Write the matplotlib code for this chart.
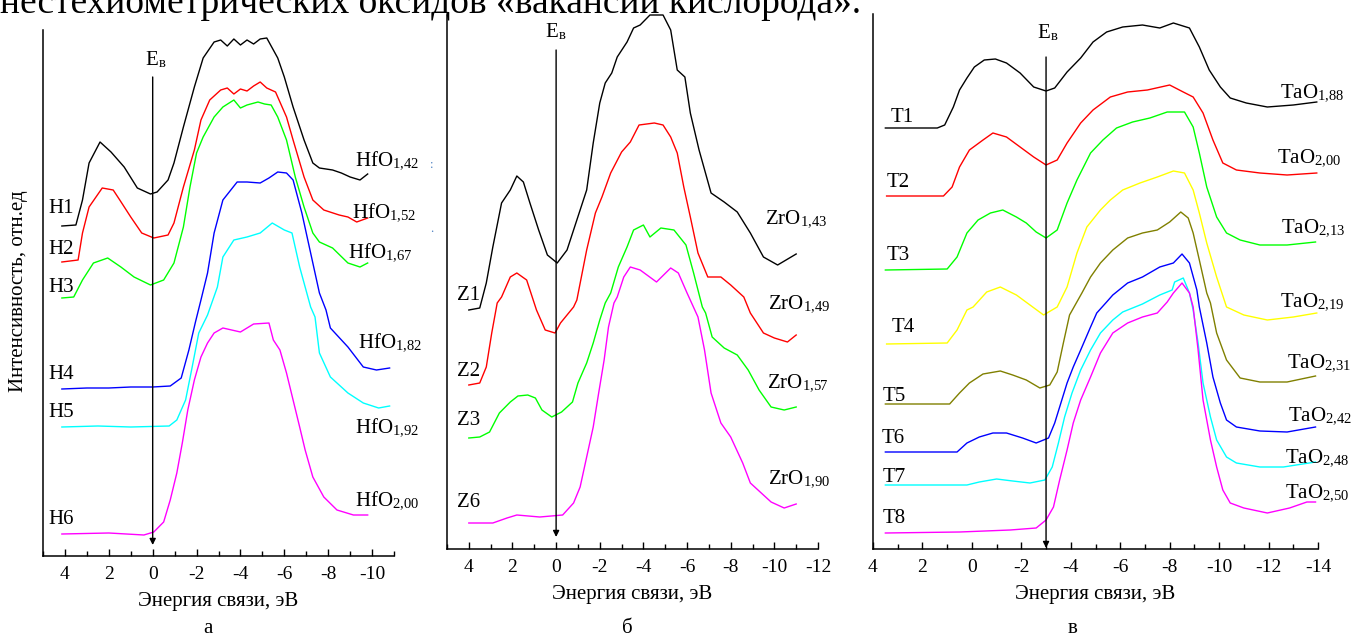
import numpy as np
import matplotlib
matplotlib.use("Agg")
import matplotlib.pyplot as plt

plt.rcParams['font.family'] = ['Liberation Serif', 'DejaVu Serif']
plt.rcParams['mathtext.fontset'] = 'stix'
plt.rcParams['axes.unicode_minus'] = False

# ---------------- data: panel a (HfOx) ----------------
h1_e = [4.14, 3.5, 3.2, 2.9, 2.4, 1.9, 1.3, 0.7, 0.1, -0.2, -0.7, -0.97, -1.4, -1.9, -2.3, -2.8,
        -3.1, -3.4, -3.7, -4.0, -4.3, -4.6, -4.9, -5.2, -5.7, -6.0, -6.4, -6.9, -7.3, -7.6, -8.2,
        -8.6, -9.0, -9.45, -9.8]
h1_i = [330, 331, 356, 393, 414, 404, 389, 368, 362, 364, 376, 393, 429, 469, 498, 514,
        516, 510, 517, 511, 516, 512, 517, 518, 498, 479, 449, 416, 393, 388, 386,
        383, 379, 376, 382]
h2_e = [4.14, 3.4, 3.2, 2.9, 2.3, 1.8, 1.5, 1.0, 0.5, -0.05, -0.7, -0.97, -1.4, -1.9, -2.2, -2.6,
        -3.1, -3.4, -3.7, -4.0, -4.3, -4.6, -4.9, -5.2, -5.6, -6.1, -6.4, -6.9, -7.3, -7.8, -8.5,
        -8.9, -9.3, -9.8]
h2_i = [294, 296, 323, 349, 368, 366, 356, 339, 323, 318, 321, 333, 369, 406, 436, 456,
        466, 468, 462, 467, 465, 470, 474, 468, 464, 439, 416, 379, 356, 346, 341,
        339, 334, 338]
h3_e = [4.14, 3.6, 3.2, 2.7, 2.05, 1.45, 0.85, 0.1, -0.5, -0.97, -1.4, -1.7, -2.0, -2.3, -2.8,
        -3.2, -3.7, -4.0, -4.3, -4.8, -5.1, -5.4, -5.7, -6.1, -6.5, -6.9, -7.3, -7.6, -8.2, -8.9,
        -9.45, -9.8]
h3_i = [258, 259, 276, 293, 298, 289, 279, 271, 276, 293, 329, 369, 403, 419, 439,
        449, 456, 448, 451, 454, 452, 451, 439, 416, 379, 349, 323, 314, 308, 293,
        289, 293]
h4_e = [4.14, 3.0, 2.0, 1.0, 0.0, -0.8, -1.3, -1.65, -1.95, -2.2, -2.5, -2.8, -3.2, -3.85, -4.3,
        -4.9, -5.3, -5.7, -6.1, -6.4, -6.8, -7.2, -7.6, -7.9, -8.1, -8.9, -9.6, -10.2, -10.8]
h4_i = [167, 168, 168, 169, 169, 170, 178, 206, 234, 256, 283, 323, 356, 374, 374,
        373, 378, 384, 383, 376, 343, 303, 263, 246, 228, 209, 189, 186, 188]
h5_e = [4.14, 2.5, 1.0, -0.75, -1.1, -1.5, -1.8, -2.1, -2.5, -2.95, -3.2, -3.7, -4.3, -4.9, -5.45,
        -6.0, -6.35, -6.7, -7.2, -7.4, -7.6, -8.1, -8.9, -9.6, -10.3, -10.8]
h5_i = [129, 130, 129, 130, 136, 156, 189, 223, 241, 269, 299, 316, 319, 323, 333,
        326, 323, 289, 249, 239, 203, 179, 163, 153, 148, 150]
h6_e = [4.14, 2.0, 0.4, -0.05, -0.5, -0.8, -1.1, -1.35, -1.6, -1.9, -2.2, -2.5, -2.8, -3.2, -4.0,
        -4.6, -5.3, -5.5, -5.8, -6.1, -6.4, -6.7, -6.95, -7.3, -7.8, -8.4, -9.15, -9.8]
h6_i = [22, 23, 21, 24, 34, 56, 83, 113, 146, 176, 199, 213, 223, 228, 224,
        232, 233, 216, 206, 183, 156, 129, 106, 79, 59, 46, 41, 41]

# ---------------- data: panel b (ZrOx) ----------------
z1_e = [4.0, 3.5, 3.2, 2.9, 2.5, 2.1, 1.8, 1.5, 1.2, 0.8, 0.4, -0.05, -0.5, -0.95, -1.4, -1.7,
        -2.0, -2.25, -2.55, -2.8, -3.25, -3.55, -3.85, -4.3, -4.9, -5.25, -5.55, -5.9, -6.15,
        -6.55, -7.1, -7.7, -8.3, -8.9, -9.5, -10.15, -11.0]
z1_i = [239, 241, 266, 302, 346, 359, 373, 367, 346, 319, 294, 286, 299, 329, 359, 406,
        446, 466, 476, 492, 507, 521, 524, 534, 534, 519, 479, 472, 436,
        399, 356, 347, 337, 316, 292, 284, 295]
z2_e = [4.0, 3.5, 3.2, 2.95, 2.7, 2.5, 2.1, 1.8, 1.35, 0.9, 0.5, 0.05, -0.2, -0.8, -0.95, -1.4,
        -1.8, -2.1, -2.5, -3.0, -3.4, -3.8, -4.5, -4.9, -5.25, -5.55, -5.85, -6.15, -6.5, -6.95,
        -7.55, -8.0, -8.6, -8.9, -9.5, -10.0, -10.6, -11.0]
z2_i = [164, 166, 182, 216, 246, 252, 272, 276, 269, 239, 219, 216, 226, 242, 249, 299,
        336, 352, 376, 397, 407, 424, 426, 424, 412, 396, 362, 332, 296, 272,
        272, 264, 252, 236, 216, 211, 207, 214]
z3_e = [4.0, 3.5, 3.05, 2.6, 2.1, 1.75, 1.3, 0.95, 0.65, 0.2, -0.25, -0.75, -1.0, -1.4, -1.7,
        -2.0, -2.25, -2.5, -2.85, -3.25, -3.55, -4.0, -4.3, -4.8, -5.4, -5.95, -6.3, -6.7, -6.85,
        -7.15, -7.7, -8.3, -8.8, -9.3, -9.85, -10.45, -11.0]
z3_i = [111, 112, 117, 136, 147, 153, 154, 151, 139, 132, 137, 147, 166, 186, 206,
        229, 246, 256, 282, 302, 319, 324, 312, 321, 319, 304, 276, 242, 236,
        212, 201, 194, 179, 159, 142, 139, 142]
z6_e = [4.0, 2.9, 2.25, 1.8, 0.75, -0.3, -0.8, -1.1, -1.4, -1.7, -1.95, -2.2, -2.4, -2.65, -2.8,
        -3.1, -3.4, -3.85, -4.6, -5.25, -5.6, -6.0, -6.5, -6.8, -7.1, -7.55, -8.0, -8.55, -8.9,
        -9.4, -9.85, -10.45, -11.0]
z6_i = [26, 26, 31, 34, 32, 34, 46, 62, 92, 122, 156, 189, 222, 246, 252,
        272, 282, 279, 267, 281, 276, 256, 232, 199, 156, 126, 112, 86, 66,
        56, 47, 41, 45]

# ---------------- data: panel c (TaOx) ----------------
t1_e = [3.5, 1.4, 1.1, 0.75, 0.5, 0.2, -0.1, -0.5, -0.95, -1.4, -1.95, -2.5, -3.0, -3.35, -3.85,
        -4.4, -4.9, -5.45, -6.1, -6.9, -7.6, -8.15, -8.8, -9.2, -9.6, -10.05, -10.45, -11.1,
        -11.95, -13.0, -13.95]
t1_i = [421, 421, 424, 442, 459, 471, 482, 489, 490, 486, 476, 462, 458, 461, 477,
        491, 507, 517, 522, 524, 521, 526, 521, 502, 479, 462, 451, 446,
        442, 444, 447]
t2_e = [3.45, 1.15, 0.8, 0.5, 0.1, -0.45, -0.85, -1.4, -1.95, -2.5, -3.0, -3.45, -3.85, -4.4,
        -4.9, -5.6, -6.3, -7.1, -8.0, -8.55, -8.95, -9.35, -9.75, -10.15, -10.7, -11.65, -12.75,
        -13.95]
t2_i = [353, 353, 362, 382, 399, 409, 416, 412, 402, 392, 384, 389, 406, 426,
        439, 452, 457, 459, 464, 457, 452, 436, 409, 386, 379, 376, 374, 376]
t3_e = [3.5, 1.0, 0.6, 0.2, -0.25, -0.75, -1.25, -1.8, -2.2, -2.6, -3.0, -3.45, -3.85, -4.25,
        -4.8, -5.3, -5.85, -6.5, -7.2, -7.9, -8.6, -8.95, -9.2, -9.5, -9.9, -10.3, -10.85, -11.65,
        -12.75, -13.9]
t3_i = [279, 280, 292, 316, 329, 336, 339, 332, 326, 317, 311, 319, 346, 369,
        396, 409, 421, 427, 431, 437, 437, 422, 396, 362, 332, 316, 309, 304,
        304, 307]
t4_e = [3.45, 1.0, 0.6, 0.2, -0.05, -0.6, -1.15, -1.8, -2.35, -2.9, -3.45, -3.85, -4.25, -4.65,
        -5.2, -5.6, -6.1, -6.8, -7.5, -8.15, -8.6, -8.95, -9.2, -9.5, -9.9, -10.3, -11.0, -11.95,
        -13.0, -13.95]
t4_i = [205, 206, 219, 239, 242, 257, 262, 254, 244, 234, 242, 262, 296, 322,
        339, 349, 359, 366, 372, 378, 376, 359, 336, 306, 272, 242, 234, 229,
        232, 236]
t5_e = [3.5, 0.9, 0.5, 0.1, -0.45, -1.15, -1.65, -2.2, -2.75, -3.15, -3.45, -3.7, -3.95, -4.45,
        -4.8, -5.2, -5.7, -6.3, -6.9, -7.5, -8.0, -8.45, -8.75, -8.95, -9.2, -9.5, -9.65, -9.9,
        -10.3, -10.85, -11.65, -12.75, -13.9]
t5_i = [145, 145, 156, 166, 175, 178, 174, 169, 161, 164, 177, 206, 234, 256,
        272, 286, 299, 311, 316, 319, 327, 337, 331, 316, 289, 256, 246, 216,
        189, 171, 167, 167, 173]
t6_e = [3.5, 0.6, 0.2, -0.3, -0.85, -1.4, -2.05, -2.6, -3.1, -3.35, -3.55, -3.85, -4.1, -4.4,
        -4.8, -5.05, -5.45, -5.7, -6.3, -6.9, -7.6, -8.15, -8.5, -8.8, -9.1, -9.2, -9.5, -9.75,
        -10.05, -10.3, -10.7, -11.65, -12.75, -13.9]
t6_i = [97, 97, 106, 112, 116, 116, 111, 106, 111, 126, 142, 166, 182, 199,
        222, 236, 247, 254, 266, 272, 282, 286, 295, 286, 259, 242, 206, 172,
        146, 129, 122, 118, 117, 122]
t7_e = [3.5, 0.2, -0.3, -1.0, -1.65, -2.35, -2.95, -3.25, -3.5, -3.75, -4.05, -4.4, -4.8, -5.2,
        -5.7, -6.1, -6.9, -7.6, -8.1, -8.2, -8.55, -8.8, -8.95, -9.15, -9.35, -9.65, -9.9, -10.3,
        -10.7, -11.65, -12.6, -13.9]
t7_i = [64, 64, 67, 70, 68, 66, 69, 82, 106, 132, 156, 179, 199, 216,
        229, 237, 245, 254, 259, 267, 271, 256, 239, 206, 166, 132, 109, 92,
        86, 82, 82, 87]
t8_e = [3.5, 0.5, -1.55, -2.6, -3.0, -3.3, -3.55, -3.85, -4.1, -4.4, -4.8, -5.2, -5.7, -6.3,
        -6.9, -7.5, -7.9, -8.15, -8.5, -8.8, -8.95, -9.15, -9.35, -9.65, -9.9, -10.15, -10.45,
        -11.0, -11.95, -12.85, -13.55, -13.9]
t8_i = [16, 17, 19, 21, 29, 42, 69, 99, 126, 149, 172, 196, 216, 226,
        232, 236, 247, 256, 266, 256, 242, 199, 149, 109, 82, 59, 46,
        41, 36, 41, 47, 47]

a_left = ['H1', 'H2', 'H3', 'H4', 'H5', 'H6']
a_right = ['1{,}42', '1{,}52', '1{,}67', '1{,}82', '1{,}92', '2{,}00']
b_left = ['Z1', 'Z2', 'Z3', 'Z6']
b_right = ['1{,}43', '1{,}49', '1{,}57', '1{,}90']
c_left = ['T1', 'T2', 'T3', 'T4', 'T5', 'T6', 'T7', 'T8']
c_right = ['1{,}88', '2{,}00', '2{,}13', '2{,}19', '2{,}31', '2{,}42', '2{,}48', '2{,}50']

cols6 = ['black', 'red', '#00ff00', 'blue', 'cyan', 'magenta']
cols4 = ['black', 'red', '#00ff00', 'magenta']
cols8 = ['black', 'red', '#00ff00', '#ffff00', '#808000', 'blue', 'cyan', 'magenta']

W, H = 1357, 636
fig = plt.figure(figsize=(W / 100, H / 100), dpi=100)


def make_ax(box, xlim, ylim):
    l, r, t, b = box
    ax = fig.add_axes([l / W, (H - b) / H, (r - l) / W, (b - t) / H])
    ax.set_xlim(*xlim)
    ax.set_ylim(*ylim)
    for s in ['top', 'right']:
        ax.spines[s].set_visible(False)
    ax.spines['left'].set_linewidth(1.1)
    ax.spines['bottom'].set_linewidth(1.1)
    ax.set_yticks([])
    ax.set_xticks(np.arange(np.ceil(min(xlim) / 2) * 2, max(xlim) + 0.01, 2))
    ax.set_xticks(np.arange(np.ceil(min(xlim)), max(xlim) + 0.01, 1), minor=True)
    ax.set_xticklabels(['%d' % v for v in ax.get_xticks()])
    ax.tick_params(axis='x', which='major', direction='in', length=5, width=1, labelsize=14, pad=7)
    ax.tick_params(axis='x', which='minor', direction='in', length=3.5, width=1)
    ax.set_xlabel('Энергия связи, эВ', fontsize=15, labelpad=7)
    return ax


def e_line(ax, x, top, bot, lab_x, lab_y):
    ax.annotate('', xy=(x, bot), xytext=(x, top),
                arrowprops=dict(arrowstyle='-|>', color='black', lw=1.0,
                                mutation_scale=9, shrinkA=0, shrinkB=0))
    ax.text(lab_x, lab_y, r'E$_\mathregular{в}$', fontsize=15, va='baseline', ha='left')


# panel a
ax1 = make_ax((43, 394, 30, 556), (5, -11), (0, 526))
a_series = [(h1_e, h1_i), (h2_e, h2_i), (h3_e, h3_i), (h4_e, h4_i), (h5_e, h5_i), (h6_e, h6_i)]
for (e, i), c in zip(a_series, cols6):
    ax1.plot(e, i, color=c, lw=1.0, clip_on=False)
e_line(ax1, 0, 479, 11, 0.35, 491)
a_ly = [343, 302, 264, 177, 139, 32]
a_ry = [391, 339, 299, 209, 124, 51]
a_rx = [-9.22, -9.08, -8.9, -9.35, -9.22, -9.22]
for n, y in zip(a_left, a_ly):
    ax1.text(4.77, y, n, fontsize=15, va='baseline')
for n, x, y in zip(a_right, a_rx, a_ry):
    ax1.text(x, y, r'HfO$_\mathregular{%s}$' % n, fontsize=15, va='baseline')
ax1.set_ylabel('Интенсивность, отн.ед', fontsize=15)
ax1.yaxis.set_label_coords(-0.042, 0.504)

# panel b
ax2 = make_ax((447, 818, 15, 549), (5, -12), (0, 534))
b_series = [(z1_e, z1_i), (z2_e, z2_i), (z3_e, z3_i), (z6_e, z6_i)]
for (e, i), c in zip(b_series, cols4):
    ax2.plot(e, i, color=c, lw=1.0, clip_on=False)
e_line(ax2, 0, 499, 12, 0.5, 512)
b_ly = [249, 173, 124, 42]
b_ry = [326, 241, 162, 66]
b_rx = [-9.58, -9.72, -9.67, -9.72]
for n, y in zip(b_left, b_ly):
    ax2.text(4.55, y, n, fontsize=15, va='baseline')
for n, x, y in zip(b_right, b_rx, b_ry):
    ax2.text(x, y, r'ZrO$_\mathregular{%s}$' % n, fontsize=15, va='baseline')

# panel c
ax3 = make_ax((873, 1318, 14, 549), (4, -14), (0, 535))
c_series = [(t1_e, t1_i), (t2_e, t2_i), (t3_e, t3_i), (t4_e, t4_i),
            (t5_e, t5_i), (t6_e, t6_i), (t7_e, t7_i), (t8_e, t8_i)]
for (e, i), c in zip(c_series, cols8):
    ax3.plot(e, i, color=c, lw=1.0, clip_on=False)
e_line(ax3, -3, 492, 1, -2.63, 511)
c_lx = [3.28, 3.44, 3.44, 3.24, 3.6, 3.64, 3.6, 3.6]
c_ly = [427, 362, 289, 217, 148, 106, 67, 26]
c_rx = [-12.46, -12.34, -12.5, -12.46, -12.74, -12.78, -12.66, -12.66]
c_ry = [452, 387, 317, 243, 182, 129, 87, 52]
for n, x, y in zip(c_left, c_lx, c_ly):
    ax3.text(x, y, n, fontsize=15, va='baseline')
for n, x, y in zip(c_right, c_rx, c_ry):
    ax3.text(x, y, r'TaO$_\mathregular{%s}$' % n, fontsize=15, va='baseline')

# captions and the cut-off line of text above
fig.text(208 / W, (H - 633) / H, 'а', fontsize=15, ha='center', va='baseline')
fig.text(627 / W, (H - 633) / H, 'б', fontsize=15, ha='center', va='baseline')
fig.text(1073 / W, (H - 633) / H, 'в', fontsize=15, ha='center', va='baseline')
fig.text(0 / W, (H - 13) / H, 'нестехиометрических оксидов «вакансий кислорода».',
         fontsize=27, ha='left', va='baseline')
fig.text(432 / W, (H - 168) / H, ':', fontsize=9, color='#4a7fc1', ha='center')
fig.text(432 / W, (H - 232) / H, '.', fontsize=9, color='#4a7fc1', ha='center')

fig.savefig('out.png', dpi=100)
